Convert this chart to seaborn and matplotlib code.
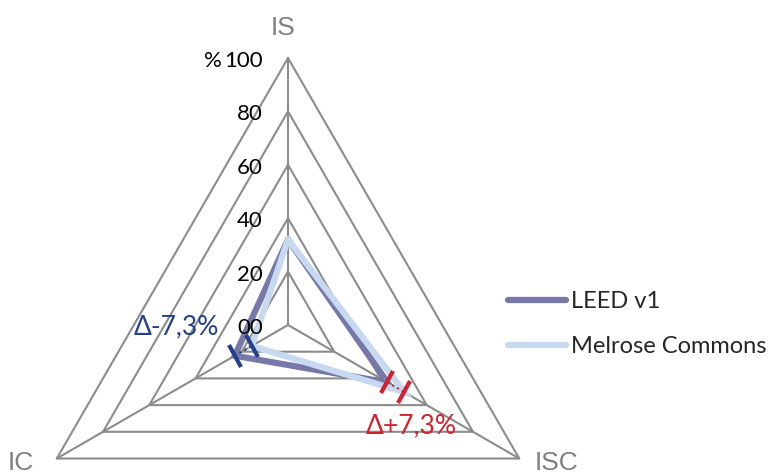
import numpy as np
import pandas as pd
import matplotlib.pyplot as plt
import seaborn as sns
from matplotlib.lines import Line2D
from matplotlib.markers import MarkerStyle
from matplotlib.transforms import Affine2D

# Datos
categorias = ["IS", "ISC", "IC"]
leed_v1 = [32.0, 43.0, 23.0]
melrose = [32.0, 50.3, 15.7]
niveles = [20, 40, 60, 80, 100]
etiquetas_r = ["00", "20", "40", "60", "80", "100"]
series = ["LEED v1", "Melrose Commons"]
colores = {"LEED v1": "#7679a8", "Melrose Commons": "#c6d9f0"}

sns.set_style("white")
plt.rcParams["font.family"] = ["Lato", "DejaVu Sans"]

angulos = np.deg2rad([0, 120, 240])

# tabla larga para seaborn (polígono cerrado)
filas = []
for nombre, vals in zip(series, [leed_v1, melrose]):
    for k, i in enumerate([0, 1, 2, 0]):
        theta = 2 * np.pi if k == 3 else angulos[i]
        filas.append({"serie": nombre, "theta": theta, "r": vals[i]})
df = pd.DataFrame(filas)

fig = plt.figure(figsize=(7.74, 4.73), dpi=100)
ax = fig.add_axes([21 / 774, -119 / 473, 534 / 774, 534 / 473], projection="polar")
ax.set_theta_zero_location("N")
ax.set_theta_direction(-1)
ax.set_ylim(0, 100)
ax.grid(False)
ax.spines["polar"].set_visible(False)
ax.set_xticks([])
ax.set_yticks([])
ax.patch.set_alpha(0)

# rejilla triangular
gris = "#8c8c8c"
t_cerr = np.append(angulos, 2 * np.pi)
for n in niveles:
    ax.plot(t_cerr, [n] * 4, color=gris, lw=1.5, clip_on=False, zorder=1)
for a in angulos:
    ax.plot([a, a], [0, 100], color=gris, lw=1.5, clip_on=False, zorder=1)

# series
sns.lineplot(data=df, x="theta", y="r", hue="serie", palette=colores, sort=False,
             estimator=None, units="serie", lw=4.5, legend=False, ax=ax, zorder=3)
for l in ax.lines[-2:]:
    l.set_clip_on(False)
    l.set_solid_joinstyle("miter")
ax.set_xlabel("")
ax.set_ylabel("")

# etiquetas radiales
for v, txt in zip([0] + niveles, etiquetas_r):
    ax.annotate(txt, xy=(0, v), xytext=(-25, -3), textcoords="offset pixels",
                ha="right", va="center", fontsize=16, color="black", annotation_clip=False)
ax.annotate("%", xy=(0, 100), xytext=(-66, -3), textcoords="offset pixels",
            ha="right", va="center", fontsize=16, color="black", annotation_clip=False)

# etiquetas de categorías
cat_kw = dict(textcoords="offset pixels", ha="center", va="center", fontsize=19,
              color="#808080", family="Liberation Sans", annotation_clip=False)
ax.annotate(categorias[0], xy=(angulos[0], 100), xytext=(-5, 30), **cat_kw)
ax.annotate(categorias[1], xy=(angulos[1], 100), xytext=(37, -4), **cat_kw)
ax.annotate(categorias[2], xy=(angulos[2], 100), xytext=(-36, -4), **cat_kw)

# marcas de diferencia
azul = "#233f8e"
rojo = "#d5202e"
for idx, col, rot in [(2, azul, 30), (1, rojo, -30)]:
    a = angulos[idx]
    ax.plot([a, a], [leed_v1[idx], melrose[idx]], color=col, lw=1.5, ls=":", zorder=4, clip_on=False)
    m = MarkerStyle("|", transform=Affine2D().rotate_deg(rot))
    ax.plot([a, a], [leed_v1[idx], melrose[idx]], ls="none", marker=m, ms=18, mew=3,
            color=col, zorder=5, clip_on=False)

ax.annotate("Δ-7,3%", xy=(angulos[2], leed_v1[2]), xytext=(-59, 29), textcoords="offset pixels",
            ha="center", va="center", fontsize=19, color=azul, annotation_clip=False)
ax.annotate("Δ+7,3%", xy=(angulos[1], leed_v1[1]), xytext=(24, -43), textcoords="offset pixels",
            ha="center", va="center", fontsize=19, color=rojo, annotation_clip=False)

# leyenda
handles = [Line2D([], [], color=colores[s], lw=4.5) for s in series]
fig.legend(handles, series, loc="center left", bbox_to_anchor=(508 / 774, 149 / 473),
           frameon=False, fontsize=17, handlelength=2.45, handletextpad=0.2,
           labelspacing=1.0, borderpad=0, borderaxespad=0)

fig.savefig("out.png", dpi=100)
